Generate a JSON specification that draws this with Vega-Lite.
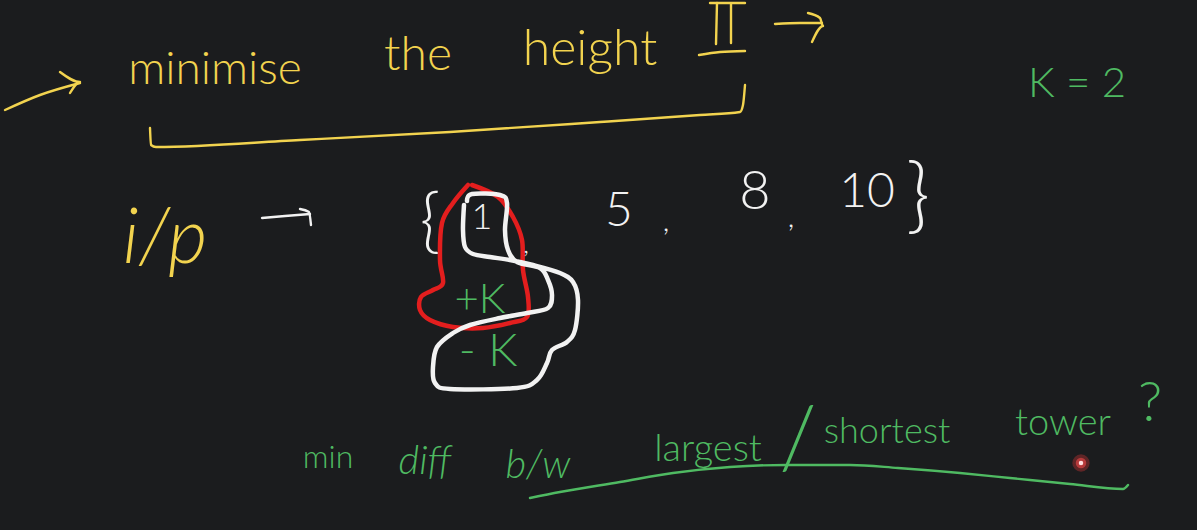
{
  "$schema": "https://vega.github.io/schema/vega-lite/v6.json",
  "autosize": {"type": "fit", "contains": "padding"},
  "width": 1197,
  "height": 530,
  "padding": 0,
  "background": "#1b1c1e",
  "config": {"view": {"stroke": null}},
  "datasets": {
    "strokes": [
      {"s": "arrowL", "pen": "fine", "ink": "yellow", "i": 0, "x": 5, "y": 110},
      {"s": "arrowL", "pen": "fine", "ink": "yellow", "i": 1, "x": 40, "y": 95},
      {"s": "arrowL", "pen": "fine", "ink": "yellow", "i": 2, "x": 80, "y": 83},
      {"s": "headL", "pen": "fine", "ink": "yellow", "i": 0, "x": 60, "y": 72},
      {"s": "headL", "pen": "fine", "ink": "yellow", "i": 1, "x": 80, "y": 82},
      {"s": "headL", "pen": "fine", "ink": "yellow", "i": 2, "x": 70, "y": 93},
      {"s": "bracket", "pen": "fine", "ink": "yellow", "i": 0, "x": 150, "y": 128},
      {"s": "bracket", "pen": "fine", "ink": "yellow", "i": 1, "x": 151, "y": 145},
      {"s": "bracket", "pen": "fine", "ink": "yellow", "i": 2, "x": 156, "y": 147},
      {"s": "bracket", "pen": "fine", "ink": "yellow", "i": 3, "x": 300, "y": 140},
      {"s": "bracket", "pen": "fine", "ink": "yellow", "i": 4, "x": 450, "y": 132},
      {"s": "bracket", "pen": "fine", "ink": "yellow", "i": 5, "x": 600, "y": 122},
      {"s": "bracket", "pen": "fine", "ink": "yellow", "i": 6, "x": 700, "y": 115},
      {"s": "bracket", "pen": "fine", "ink": "yellow", "i": 7, "x": 740, "y": 112},
      {"s": "bracket", "pen": "fine", "ink": "yellow", "i": 8, "x": 743, "y": 105},
      {"s": "bracket", "pen": "fine", "ink": "yellow", "i": 9, "x": 745, "y": 85},
      {"s": "towerTop", "pen": "fine", "ink": "yellow", "i": 0, "x": 710, "y": 3},
      {"s": "towerTop", "pen": "fine", "ink": "yellow", "i": 1, "x": 745, "y": 3},
      {"s": "towerA", "pen": "fine", "ink": "yellow", "i": 0, "x": 717, "y": 3},
      {"s": "towerA", "pen": "fine", "ink": "yellow", "i": 1, "x": 716, "y": 44},
      {"s": "towerB", "pen": "fine", "ink": "yellow", "i": 0, "x": 731, "y": 4},
      {"s": "towerB", "pen": "fine", "ink": "yellow", "i": 1, "x": 731, "y": 43},
      {"s": "towerBase", "pen": "fine", "ink": "yellow", "i": 0, "x": 699, "y": 55},
      {"s": "towerBase", "pen": "fine", "ink": "yellow", "i": 1, "x": 720, "y": 52},
      {"s": "towerBase", "pen": "fine", "ink": "yellow", "i": 2, "x": 745, "y": 51},
      {"s": "arrowR", "pen": "fine", "ink": "yellow", "i": 0, "x": 775, "y": 24},
      {"s": "arrowR", "pen": "fine", "ink": "yellow", "i": 1, "x": 800, "y": 23},
      {"s": "arrowR", "pen": "fine", "ink": "yellow", "i": 2, "x": 822, "y": 23},
      {"s": "headR", "pen": "fine", "ink": "yellow", "i": 0, "x": 808, "y": 13},
      {"s": "headR", "pen": "fine", "ink": "yellow", "i": 1, "x": 820, "y": 18},
      {"s": "headR", "pen": "fine", "ink": "yellow", "i": 2, "x": 823, "y": 26},
      {"s": "headR", "pen": "fine", "ink": "yellow", "i": 3, "x": 812, "y": 42},
      {"s": "arrowW", "pen": "fine", "ink": "white", "i": 0, "x": 262, "y": 218},
      {"s": "arrowW", "pen": "fine", "ink": "white", "i": 1, "x": 285, "y": 216},
      {"s": "arrowW", "pen": "fine", "ink": "white", "i": 2, "x": 310, "y": 214},
      {"s": "headW", "pen": "fine", "ink": "white", "i": 0, "x": 300, "y": 209},
      {"s": "headW", "pen": "fine", "ink": "white", "i": 1, "x": 309, "y": 212},
      {"s": "headW", "pen": "fine", "ink": "white", "i": 2, "x": 311, "y": 225},
      {"s": "underline", "pen": "fine", "ink": "green", "i": 0, "x": 530, "y": 498},
      {"s": "underline", "pen": "fine", "ink": "green", "i": 1, "x": 560, "y": 492},
      {"s": "underline", "pen": "fine", "ink": "green", "i": 2, "x": 620, "y": 482},
      {"s": "underline", "pen": "fine", "ink": "green", "i": 3, "x": 673, "y": 473},
      {"s": "underline", "pen": "fine", "ink": "green", "i": 4, "x": 730, "y": 467},
      {"s": "underline", "pen": "fine", "ink": "green", "i": 5, "x": 786, "y": 465},
      {"s": "underline", "pen": "fine", "ink": "green", "i": 6, "x": 850, "y": 465},
      {"s": "underline", "pen": "fine", "ink": "green", "i": 7, "x": 898, "y": 468},
      {"s": "underline", "pen": "fine", "ink": "green", "i": 8, "x": 960, "y": 473},
      {"s": "underline", "pen": "fine", "ink": "green", "i": 9, "x": 1010, "y": 478},
      {"s": "underline", "pen": "fine", "ink": "green", "i": 10, "x": 1070, "y": 484},
      {"s": "underline", "pen": "fine", "ink": "green", "i": 11, "x": 1123, "y": 489},
      {"s": "underline", "pen": "fine", "ink": "green", "i": 12, "x": 1128, "y": 485},
      {"s": "redLoop", "pen": "bold", "ink": "red", "i": 0, "x": 468, "y": 185},
      {"s": "redLoop", "pen": "bold", "ink": "red", "i": 1, "x": 453, "y": 203},
      {"s": "redLoop", "pen": "bold", "ink": "red", "i": 2, "x": 442, "y": 223},
      {"s": "redLoop", "pen": "bold", "ink": "red", "i": 3, "x": 440, "y": 260},
      {"s": "redLoop", "pen": "bold", "ink": "red", "i": 4, "x": 443, "y": 283},
      {"s": "redLoop", "pen": "bold", "ink": "red", "i": 5, "x": 433, "y": 290},
      {"s": "redLoop", "pen": "bold", "ink": "red", "i": 6, "x": 421, "y": 297},
      {"s": "redLoop", "pen": "bold", "ink": "red", "i": 7, "x": 420, "y": 310},
      {"s": "redLoop", "pen": "bold", "ink": "red", "i": 8, "x": 430, "y": 320},
      {"s": "redLoop", "pen": "bold", "ink": "red", "i": 9, "x": 453, "y": 327},
      {"s": "redLoop", "pen": "bold", "ink": "red", "i": 10, "x": 483, "y": 328},
      {"s": "redLoop", "pen": "bold", "ink": "red", "i": 11, "x": 510, "y": 323},
      {"s": "redLoop", "pen": "bold", "ink": "red", "i": 12, "x": 527, "y": 317},
      {"s": "redLoop", "pen": "bold", "ink": "red", "i": 13, "x": 528, "y": 297},
      {"s": "redLoop", "pen": "bold", "ink": "red", "i": 14, "x": 523, "y": 270},
      {"s": "redLoop", "pen": "bold", "ink": "red", "i": 15, "x": 522, "y": 240},
      {"s": "redLoop", "pen": "bold", "ink": "red", "i": 16, "x": 513, "y": 217},
      {"s": "redLoop", "pen": "bold", "ink": "red", "i": 17, "x": 498, "y": 197},
      {"s": "redLoop", "pen": "bold", "ink": "red", "i": 18, "x": 472, "y": 185},
      {"s": "whiteLoop", "pen": "bold", "ink": "white", "i": 0, "x": 467, "y": 201},
      {"s": "whiteLoop", "pen": "bold", "ink": "white", "i": 1, "x": 472, "y": 194},
      {"s": "whiteLoop", "pen": "bold", "ink": "white", "i": 2, "x": 500, "y": 195},
      {"s": "whiteLoop", "pen": "bold", "ink": "white", "i": 3, "x": 507, "y": 203},
      {"s": "whiteLoop", "pen": "bold", "ink": "white", "i": 4, "x": 505, "y": 230},
      {"s": "whiteLoop", "pen": "bold", "ink": "white", "i": 5, "x": 508, "y": 250},
      {"s": "whiteLoop", "pen": "bold", "ink": "white", "i": 6, "x": 517, "y": 262},
      {"s": "whiteLoop", "pen": "bold", "ink": "white", "i": 7, "x": 540, "y": 268},
      {"s": "whiteLoop", "pen": "bold", "ink": "white", "i": 8, "x": 548, "y": 280},
      {"s": "whiteLoop", "pen": "bold", "ink": "white", "i": 9, "x": 552, "y": 295},
      {"s": "whiteLoop", "pen": "bold", "ink": "white", "i": 10, "x": 548, "y": 308},
      {"s": "whiteLoop", "pen": "bold", "ink": "white", "i": 11, "x": 527, "y": 313},
      {"s": "whiteLoop", "pen": "bold", "ink": "white", "i": 12, "x": 500, "y": 318},
      {"s": "whiteLoop", "pen": "bold", "ink": "white", "i": 13, "x": 470, "y": 325},
      {"s": "whiteLoop", "pen": "bold", "ink": "white", "i": 14, "x": 453, "y": 333},
      {"s": "whiteLoop", "pen": "bold", "ink": "white", "i": 15, "x": 437, "y": 347},
      {"s": "whiteLoop", "pen": "bold", "ink": "white", "i": 16, "x": 433, "y": 367},
      {"s": "whiteLoop", "pen": "bold", "ink": "white", "i": 17, "x": 435, "y": 383},
      {"s": "whiteLoop", "pen": "bold", "ink": "white", "i": 18, "x": 450, "y": 389},
      {"s": "whiteLoop", "pen": "bold", "ink": "white", "i": 19, "x": 517, "y": 388},
      {"s": "whiteLoop", "pen": "bold", "ink": "white", "i": 20, "x": 537, "y": 380},
      {"s": "whiteLoop", "pen": "bold", "ink": "white", "i": 21, "x": 547, "y": 363},
      {"s": "whiteLoop", "pen": "bold", "ink": "white", "i": 22, "x": 552, "y": 350},
      {"s": "whiteLoop", "pen": "bold", "ink": "white", "i": 23, "x": 567, "y": 342},
      {"s": "whiteLoop", "pen": "bold", "ink": "white", "i": 24, "x": 575, "y": 330},
      {"s": "whiteLoop", "pen": "bold", "ink": "white", "i": 25, "x": 578, "y": 300},
      {"s": "whiteLoop", "pen": "bold", "ink": "white", "i": 26, "x": 573, "y": 282},
      {"s": "whiteLoop", "pen": "bold", "ink": "white", "i": 27, "x": 560, "y": 273},
      {"s": "whiteLoop", "pen": "bold", "ink": "white", "i": 28, "x": 533, "y": 265},
      {"s": "whiteLoop", "pen": "bold", "ink": "white", "i": 29, "x": 510, "y": 260},
      {"s": "whiteLoop", "pen": "bold", "ink": "white", "i": 30, "x": 490, "y": 257},
      {"s": "whiteLoop", "pen": "bold", "ink": "white", "i": 31, "x": 473, "y": 254},
      {"s": "whiteLoop", "pen": "bold", "ink": "white", "i": 32, "x": 465, "y": 247},
      {"s": "whiteLoop", "pen": "bold", "ink": "white", "i": 33, "x": 463, "y": 230},
      {"s": "whiteLoop", "pen": "bold", "ink": "white", "i": 34, "x": 464, "y": 205}
    ],
    "words": [
      {"t": "minimise", "ink": "yellow", "x": 215, "y": 70, "h": 46, "slant": "normal"},
      {"t": "the", "ink": "yellow", "x": 418, "y": 56, "h": 48, "slant": "normal"},
      {"t": "height", "ink": "yellow", "x": 590, "y": 50, "h": 50, "slant": "normal"},
      {"t": "i/p", "ink": "yellow", "x": 165, "y": 240, "h": 76, "slant": "italic"},
      {"t": "{", "ink": "white", "x": 430, "y": 224, "h": 70, "slant": "normal"},
      {"t": "1", "ink": "white", "x": 482, "y": 218, "h": 36, "slant": "normal"},
      {"t": ",", "ink": "white", "x": 526, "y": 245, "h": 26, "slant": "normal"},
      {"t": "5", "ink": "white", "x": 619, "y": 212, "h": 48, "slant": "normal"},
      {"t": ",", "ink": "white", "x": 666, "y": 222, "h": 30, "slant": "normal"},
      {"t": "8", "ink": "white", "x": 755, "y": 193, "h": 54, "slant": "normal"},
      {"t": ",", "ink": "white", "x": 791, "y": 218, "h": 30, "slant": "normal"},
      {"t": "10", "ink": "white", "x": 867, "y": 193, "h": 48, "slant": "normal"},
      {"t": "}", "ink": "white", "x": 918, "y": 198, "h": 82, "slant": "normal"},
      {"t": "+K", "ink": "green", "x": 480, "y": 300, "h": 42, "slant": "normal"},
      {"t": "- K", "ink": "green", "x": 488, "y": 352, "h": 46, "slant": "normal"},
      {"t": "K = 2", "ink": "green", "x": 1077, "y": 84, "h": 42, "slant": "normal"},
      {"t": "min", "ink": "green", "x": 328, "y": 458, "h": 32, "slant": "normal"},
      {"t": "diff", "ink": "green", "x": 425, "y": 462, "h": 40, "slant": "italic"},
      {"t": "b/w", "ink": "green", "x": 538, "y": 466, "h": 40, "slant": "italic"},
      {"t": "largest", "ink": "green", "x": 708, "y": 450, "h": 38, "slant": "normal"},
      {"t": "/", "ink": "green", "x": 798, "y": 442, "h": 86, "slant": "normal"},
      {"t": "shortest", "ink": "green", "x": 887, "y": 432, "h": 36, "slant": "normal"},
      {"t": "tower", "ink": "green", "x": 1063, "y": 424, "h": 38, "slant": "normal"},
      {"t": "?", "ink": "green", "x": 1150, "y": 404, "h": 56, "slant": "normal"}
    ],
    "pointer": [{"x": 1081, "y": 463}]
  },
  "encoding": {
    "x": {"field": "x", "type": "quantitative", "scale": {"domain": [0, 1197], "nice": false, "zero": false}, "axis": null},
    "y": {"field": "y", "type": "quantitative", "scale": {"domain": [0, 530], "nice": false, "zero": false, "reverse": true}, "axis": null}
  },
  "layer": [
    {
      "data": {"name": "strokes"},
      "transform": [{"filter": "datum.pen === 'fine'"}],
      "mark": {"type": "line", "strokeWidth": 2.4, "interpolate": "monotone", "strokeCap": "round", "strokeJoin": "round"},
      "encoding": {
        "detail": {"field": "s"},
        "order": {"field": "i", "type": "quantitative"},
        "color": {"field": "ink", "type": "nominal", "scale": {"domain": ["yellow", "white", "red", "green"], "range": ["#f2d34f", "#f2f2f2", "#e31e1e", "#4fba62"]}, "legend": null}
      }
    },
    {
      "data": {"name": "strokes"},
      "transform": [{"filter": "datum.pen === 'bold'"}],
      "mark": {"type": "line", "strokeWidth": 4.5, "interpolate": "cardinal", "strokeCap": "round", "strokeJoin": "round"},
      "encoding": {
        "detail": {"field": "s"},
        "order": {"field": "i", "type": "quantitative"},
        "color": {"field": "ink", "type": "nominal", "scale": {"domain": ["yellow", "white", "red", "green"], "range": ["#f2d34f", "#f2f2f2", "#e31e1e", "#4fba62"]}, "legend": null}
      }
    },
    {
      "data": {"name": "words"},
      "transform": [{"filter": "datum.slant === 'normal'"}],
      "mark": {"type": "text", "font": "Lato", "fontWeight": 300, "align": "center", "baseline": "middle"},
      "encoding": {
        "text": {"field": "t"},
        "size": {"field": "h", "type": "quantitative", "scale": null},
        "color": {"field": "ink", "type": "nominal", "scale": {"domain": ["yellow", "white", "red", "green"], "range": ["#f2d34f", "#f2f2f2", "#e31e1e", "#4fba62"]}, "legend": null}
      }
    },
    {
      "data": {"name": "words"},
      "transform": [{"filter": "datum.slant === 'italic'"}],
      "mark": {"type": "text", "font": "Lato", "fontWeight": 300, "fontStyle": "italic", "align": "center", "baseline": "middle"},
      "encoding": {
        "text": {"field": "t"},
        "size": {"field": "h", "type": "quantitative", "scale": null},
        "color": {"field": "ink", "type": "nominal", "scale": {"domain": ["yellow", "white", "red", "green"], "range": ["#f2d34f", "#f2f2f2", "#e31e1e", "#4fba62"]}, "legend": null}
      }
    },
    {
      "data": {"name": "pointer"},
      "mark": {"type": "circle", "size": 300, "color": "#ff3b3b", "opacity": 0.3}
    },
    {
      "data": {"name": "pointer"},
      "mark": {"type": "circle", "size": 110, "color": "#ff4d4d", "opacity": 0.55}
    },
    {
      "data": {"name": "pointer"},
      "mark": {"type": "circle", "size": 20, "color": "#ffe0e0", "opacity": 1}
    }
  ]
}
